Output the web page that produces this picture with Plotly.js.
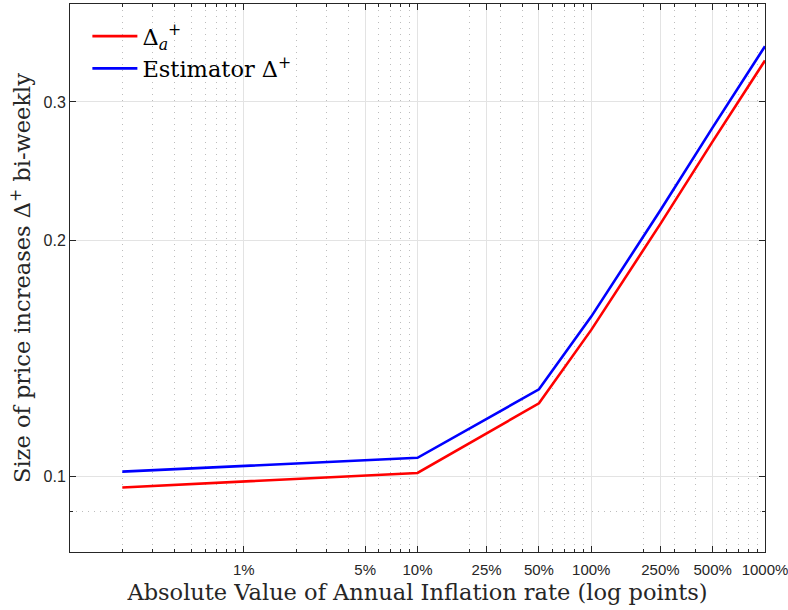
<!DOCTYPE html>
<html>
<head>
<meta charset="utf-8">
<script src="https://cdn.plot.ly/plotly-3.0.1.min.js"></script>
<style>
html, body { margin: 0; padding: 0; background: #ffffff; }
#chart { width: 788px; height: 610px; }
</style>
</head>
<body>
<div id="chart"></div>
<script>
// Inflation rate (%), log points
const inflation = [0.2, 10, 50, 100, 250, 500, 1000];
// Size of price increases
const deltaA = [0.0967, 0.1009, 0.1238, 0.1536, 0.2097, 0.2672, 0.3388];
const deltaEst = [0.1013, 0.1055, 0.1290, 0.1597, 0.2183, 0.2784, 0.3533];

const xTickVals = [1, 5, 10, 25, 50, 100, 250, 500, 1000];
const xTickText = ['1%', '5%', '10%', '25%', '50%', '100%', '250%', '500%', '1000%'];
const xMinorVals = [0.2,0.3,0.4,0.5,0.6,0.7,0.8,0.9, 2,3,4,5,6,7,8,9, 20,30,40,50,60,70,80,90, 200,300,400,500,600,700,800,900];
const yTickVals = [0.1, 0.2, 0.3];
const yTickText = ['0.1', '0.2', '0.3'];
const yMinorVals = [0.09];

const xTitle = 'Absolute Value of Annual Inflation rate (log points)';
const yTitle = 'Size of price increases Δ<sup>+</sup> bi-weekly';

const serif = 'DejaVu Serif, Liberation Serif, serif';
const sans = 'Liberation Sans, Arial, sans-serif';
const axisColor = '#262626';

const traces = [
  {
    x: inflation, y: deltaA, type: 'scatter', mode: 'lines',
    name: 'Δ<sub><i>a</i></sub><sup>+</sup>',
    line: { color: '#ff0000', width: 2.6 }
  },
  {
    x: inflation, y: deltaEst, type: 'scatter', mode: 'lines',
    name: 'Estimator Δ<sup>+</sup>',
    line: { color: '#0000ff', width: 2.6 }
  }
];

const layout = {
  width: 788, height: 610,
  paper_bgcolor: '#ffffff', plot_bgcolor: '#ffffff',
  margin: { l: 70, r: 23, t: 4, b: 58 },
  showlegend: true,
  legend: {
    x: 0.025, y: 0.98, xanchor: 'left', yanchor: 'top',
    bgcolor: 'rgba(255,255,255,0)', borderwidth: 0,
    font: { family: serif, size: 22.5, color: '#000000' },
    itemwidth: 45,
    tracegroupgap: 0
  },
  xaxis: {
    type: 'log', range: [Math.log10(0.1), Math.log10(1000)],
    tickmode: 'array', tickvals: xTickVals, ticktext: xTickText,
    ticks: 'inside', ticklen: 6, tickwidth: 1, tickcolor: axisColor,
    showline: true, linecolor: axisColor, linewidth: 1, mirror: 'ticks',
    showgrid: true, gridcolor: '#e3e3e3', gridwidth: 1,
    zeroline: false,
    tickfont: { family: sans, size: 15, color: axisColor },
    ticklabelstandoff: 4,
    ticklabeloverflow: 'allow',
    minor: {
      tickmode: 'array', tickvals: xMinorVals,
      ticks: 'inside', ticklen: 3, tickcolor: axisColor,
      showgrid: true, gridcolor: '#bdbdbd', griddash: '1px,5px', gridwidth: 1
    },
    title: { text: xTitle,
             font: { family: serif, size: 22.5, color: '#262626' }, standoff: 7 }
  },
  yaxis: {
    type: 'log', range: [Math.log10(0.08), Math.log10(0.4)],
    tickmode: 'array', tickvals: yTickVals, ticktext: yTickText,
    ticks: 'inside', ticklen: 6, tickwidth: 1, tickcolor: axisColor,
    showline: true, linecolor: axisColor, linewidth: 1, mirror: 'ticks',
    showgrid: true, gridcolor: '#e3e3e3', gridwidth: 1,
    zeroline: false,
    tickfont: { family: sans, size: 16, color: axisColor },
    ticklabeloverflow: 'allow',
    minor: {
      tickmode: 'array', tickvals: yMinorVals,
      ticks: 'inside', ticklen: 3, tickcolor: axisColor,
      showgrid: true, gridcolor: '#bdbdbd', griddash: '1px,5px', gridwidth: 1
    }
  },
  annotations: [
    {
      text: yTitle, textangle: -90, showarrow: false,
      xref: 'paper', yref: 'paper', x: -0.0719, y: 0.5,
      xanchor: 'center', yanchor: 'middle',
      font: { family: serif, size: 22.5, color: '#262626' }
    }
  ]
};

Plotly.newPlot('chart', traces, layout, { staticPlot: true, displayModeBar: false });
</script>
</body>
</html>
